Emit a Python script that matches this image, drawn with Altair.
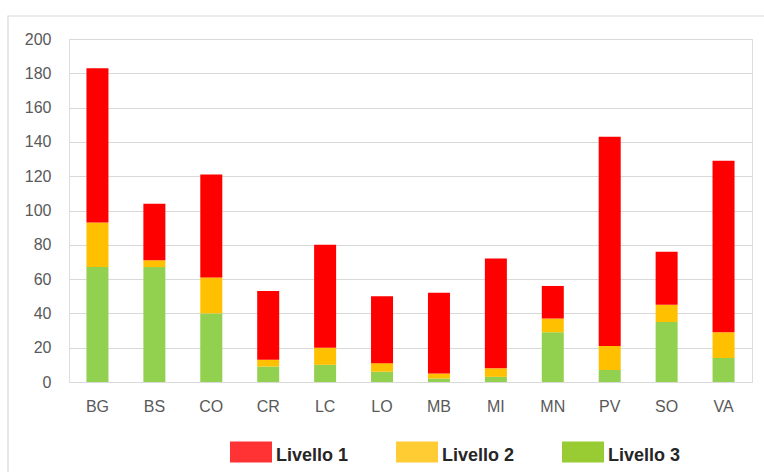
import altair as alt
import pandas as pd

# Province codes and counts per level
areas = ["BG", "BS", "CO", "CR", "LC", "LO", "MB", "MI", "MN", "PV", "SO", "VA"]
livello_1 = [90, 33, 60, 40, 60, 39, 47, 64, 19, 122, 31, 100]
livello_2 = [26, 4, 21, 4, 10, 5, 3, 5, 8, 14, 10, 15]
livello_3 = [67, 67, 40, 9, 10, 6, 2, 3, 29, 7, 35, 14]

levels = ["Livello 1", "Livello 2", "Livello 3"]
bar_colors = ["#FF0000", "#FFC000", "#92D050"]
legend_colors = ["#FF3333", "#FFCC33", "#99CC33"]
y_ticks = list(range(0, 201, 20))

rows = []
for series, name, stack_pos in [(livello_3, "Livello 3", 0),
                                (livello_2, "Livello 2", 1),
                                (livello_1, "Livello 1", 2)]:
    for area, v in zip(areas, series):
        rows.append({"area": area, "livello": name, "valore": v, "ordine": stack_pos})
df = pd.DataFrame(rows)

W, H = 683, 343

bars = alt.Chart(df).mark_bar(size=22).encode(
    x=alt.X("area:N", sort=areas, title=None,
            scale=alt.Scale(paddingInner=0.6, paddingOuter=0.3),
            axis=alt.Axis(labelAngle=0, labelFont="Liberation Sans", labelFontSize=16,
                          labelColor="#595959", labelPadding=16, domain=False, ticks=False,
                          grid=False)),
    y=alt.Y("valore:Q", stack="zero", title=None,
            scale=alt.Scale(domain=[0, 200], nice=False),
            axis=alt.Axis(values=y_ticks, labelFont="Liberation Sans", labelFontSize=16,
                          labelColor="#595959", labelPadding=18, domain=False, ticks=False,
                          gridColor="#D9D9D9", gridWidth=1.2)),
    color=alt.Color("livello:N", scale=alt.Scale(domain=levels, range=bar_colors), legend=None),
    order=alt.Order("ordine:Q", sort="ascending"),
)

# Invisible layer that carries the legend with its own swatch colours
legend_layer = alt.Chart(df).mark_square(size=0, opacity=0).encode(
    color=alt.Color("livello:N", scale=alt.Scale(domain=levels, range=legend_colors),
                    legend=alt.Legend(
                        title=None, orient="none", direction="horizontal",
                        legendX=161, legendY=396, padding=0,
                        symbolType="M-1,-0.69H1V0.31H-1Z", symbolSize=1764,
                        symbolStrokeWidth=0, symbolOpacity=1,
                        labelFont="Liberation Sans", labelFontSize=18, labelFontWeight="bold",
                        labelColor="#262626", labelOffset=4, columnPadding=47,
                    )),
)

# Outer frame of the chart
frame = alt.Chart(alt.Data(values=[{}])).mark_rect(
    fill=None, stroke="#D9D9D9", strokeWidth=1.2
).encode(
    x=alt.value(-61), x2=alt.value(W + 40), y=alt.value(-23), y2=alt.value(H + 120)
)

chart = alt.layer(frame, bars, legend_layer).resolve_scale(color="independent").properties(
    width=W, height=H,
    autosize=alt.AutoSizeParams(type="none"),
    padding={"left": 69, "top": 39, "right": 12, "bottom": 90},
).configure_view(stroke=None).configure(background="white")

chart.save("out.html", embed_options={"renderer": "svg", "actions": False})
